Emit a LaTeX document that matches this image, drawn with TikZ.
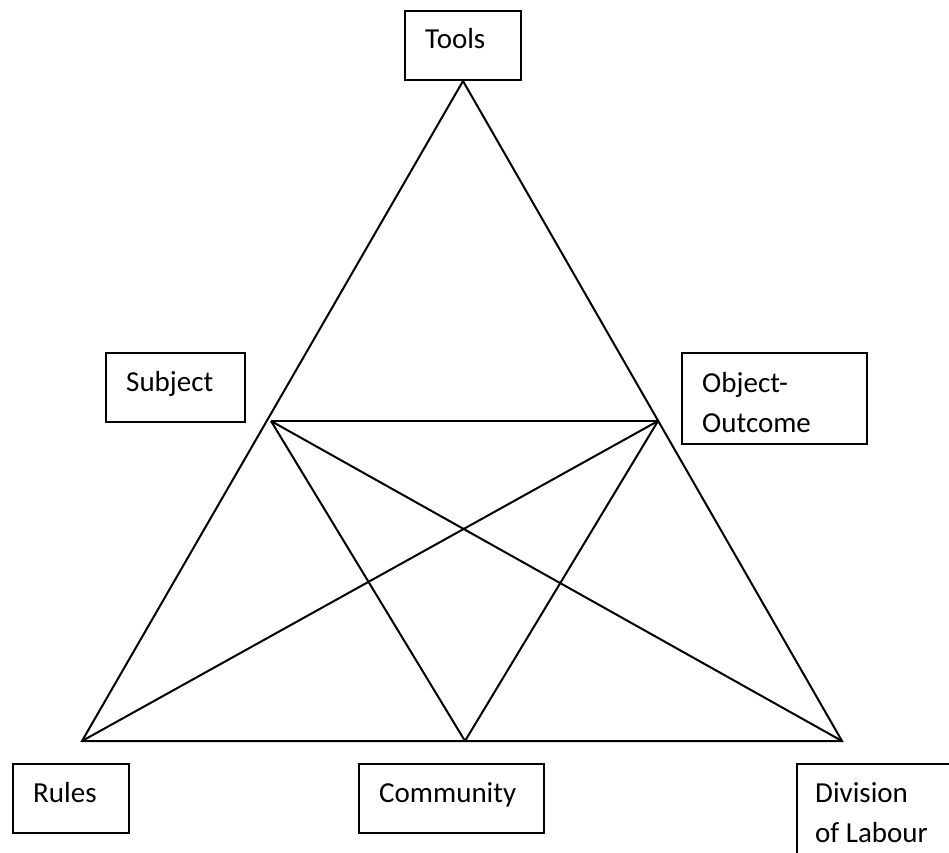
\documentclass[tikz,border=0pt]{standalone}
\usepackage{fontspec}
\setmainfont{Carlito}
\usetikzlibrary{positioning}
\tikzset{box/.style={draw,line width=2pt,anchor=north west,inner sep=0pt}}
\tikzset{lbl/.style={anchor=base west,inner sep=0pt,align=left,font=\fontsize{29}{40}\selectfont}}
\tikzset{edge/.style={draw,line width=2pt}}

\begin{document}
\begin{tikzpicture}[x=1pt,y=-1pt]
    \useasboundingbox (0,0) rectangle (949,852);
    \clip (0,0) rectangle (949,852);

    % boxes
    \node[box,minimum width=116pt,minimum height=69pt] (tools) at (404,10) {};
    \node[box,minimum width=139pt,minimum height=69pt] (subject) at (105,352) {};
    \node[box,minimum width=185pt,minimum height=91pt] (object) at (681,352) {};
    \node[box,minimum width=116pt,minimum height=69pt] (rules) at (12,763) {};
    \node[box,minimum width=185pt,minimum height=69pt] (community) at (358,763) {};
    \node[box,minimum width=180pt,minimum height=120pt] (division) at (796,763) {};

    % labels (two-line ones sit on their last line)
    \node[lbl] (toolstxt) at ([xshift=21pt,yshift=-38pt]tools.north west) {Tools};
    \node[lbl] (subjecttxt) at ([xshift=21pt,yshift=-39pt]subject.north west) {Subject};
    \node[lbl] (objecttxt) at ([xshift=21pt,yshift=-80pt]object.north west) {Object-\\Outcome};
    \node[lbl] (rulestxt) at ([xshift=21pt,yshift=-39pt]rules.north west) {Rules};
    \node[lbl] (communitytxt) at ([xshift=21pt,yshift=-39pt]community.north west) {Community};
    \node[lbl] (divisiontxt) at ([xshift=19pt,yshift=-79pt]division.north west) {Division\\of Labour};

    % triangle corners
    \coordinate (bl) at (82,741);
    \coordinate (bm) at (465,741);
    \coordinate (br) at (842,741);
    \coordinate (lm) at (271,421);
    \coordinate (rm) at (658,421);

    \path[edge] (tools.south) -- (bl) -- (br) -- cycle;
    \path[edge] (lm) -- (rm);
    \path[edge] (lm) -- (bm);
    \path[edge] (lm) -- (br);
    \path[edge] (rm) -- (bm);
    \path[edge] (rm) -- (bl);
\end{tikzpicture}
\end{document}
